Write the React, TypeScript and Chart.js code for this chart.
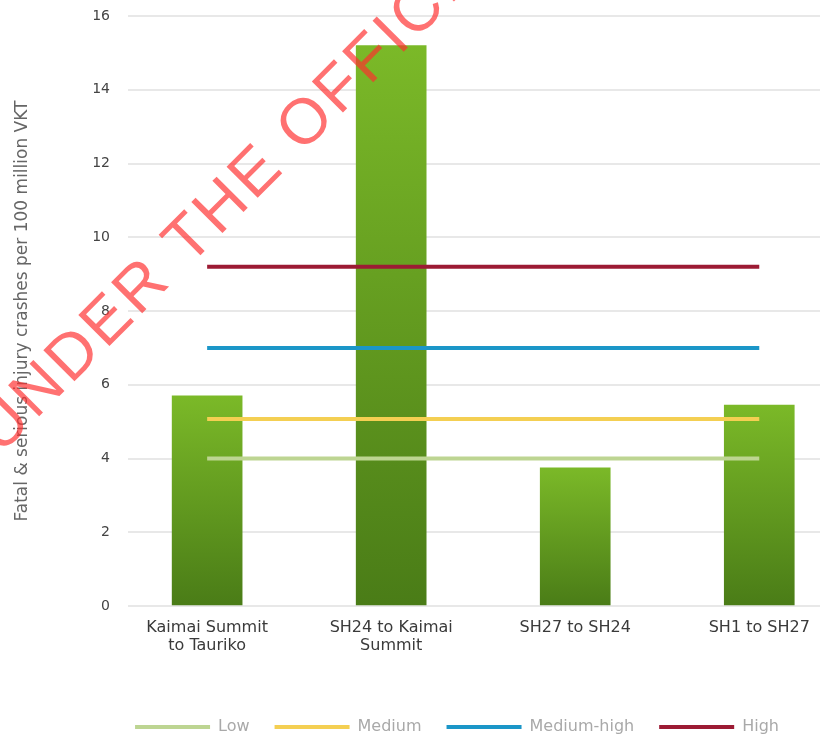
import React, { useEffect, useRef } from "react";
import { Chart, registerables } from "chart.js";

Chart.register(...registerables);

// ---- data ----
const CATEGORIES = ["Kaimai Summit to Tauriko", "SH24 to Kaimai Summit", "SH27 to SH24", "SH1 to SH27"];
const TICK_LABELS = [["Kaimai Summit", "to Tauriko"], ["SH24 to Kaimai", "Summit"], ["SH27 to SH24"], ["SH1 to SH27"]];
const CRASH_RATES = [5.7, 15.2, 3.75, 5.45];
const RISK_BANDS = ["Low", "Medium", "Medium-high", "High"];
const RISK_THRESHOLDS = [4, 5.07, 7, 9.2];
const RISK_COLORS = ["#bdd592", "#f4cf52", "#1b96c8", "#9c1b34"];
const Y_MIN = 0;
const Y_MAX = 16;
const Y_STEP = 2;
const Y_TITLE = "Fatal & serious injury crashes per 100 million VKT";
const WATERMARK = "RELEASED UNDER THE OFFICIAL INFORMATION ACT";
const WATERMARK_LEAD = "RELEASED UNDER THE ";

const watermarkPlugin = {
  id: "watermark",
  afterDraw(chart: any) {
    const ctx = chart.ctx;
    const F = 64;
    ctx.save();
    ctx.font = F + 'px "Liberation Sans"';
    try {
      (ctx as any).letterSpacing = "3.5px";
    } catch (e) {}
    ctx.fillStyle = "rgba(255,45,45,0.68)";
    ctx.textBaseline = "alphabetic";
    ctx.translate(303, 120);
    ctx.rotate(-Math.PI / 4);
    const lead = ctx.measureText(WATERMARK_LEAD).width;
    ctx.fillText(WATERMARK, -lead - 0.389 * F, 0.36 * F);
    ctx.restore();
  },
};

export default function App() {
  const ref = useRef<HTMLCanvasElement | null>(null);

  useEffect(() => {
    if (!ref.current) return;
    Chart.defaults.font.family = '"DejaVu Sans", sans-serif';
    const barData = CATEGORIES.map((_, i) => ({ x: i, y: CRASH_RATES[i] }));
    const lastIdx = CATEGORIES.length - 1;
    const lineSets = RISK_BANDS.map((name, i) => ({
      type: "line" as const,
      label: name,
      data: [
        { x: 0, y: RISK_THRESHOLDS[i] },
        { x: lastIdx, y: RISK_THRESHOLDS[i] },
      ],
      borderColor: RISK_COLORS[i],
      backgroundColor: RISK_COLORS[i],
      borderWidth: 4,
      pointRadius: 0,
      borderCapStyle: "butt" as const,
      fill: false,
      order: 0,
    }));

    const chart = new Chart(ref.current, {
      type: "bar",
      data: {
        datasets: [
          {
            type: "bar",
            label: "Crash rate",
            data: barData as any,
            barThickness: 70,
            borderWidth: 0,
            order: 1,
            backgroundColor: (c: any) => {
              const ch = c.chart;
              const y = ch.scales && ch.scales.y;
              if (!y || c.type !== "data" || !c.raw) return "#67a11f";
              const top = y.getPixelForValue(c.raw.y);
              const base = y.getPixelForValue(0);
              const g = ch.ctx.createLinearGradient(0, top, 0, base);
              g.addColorStop(0, "#7bb928");
              g.addColorStop(1, "#4a7c17");
              return g;
            },
          },
          ...lineSets,
        ] as any,
      },
      options: {
        responsive: false,
        animation: false,
        layout: { padding: { top: 16, right: 4, left: 94, bottom: -5 } },
        plugins: {
          tooltip: { enabled: false },
          legend: {
            position: "bottom",
            fullSize: true,
            align: "center",
            labels: {
              boxWidth: 75,
              boxHeight: 4,
              padding: 25,
              color: "#a9a9a9",
              font: { size: 16 },
              generateLabels: () =>
                RISK_BANDS.map((name, i) => ({
                  text: name,
                  fillStyle: RISK_COLORS[i],
                  strokeStyle: RISK_COLORS[i],
                  lineWidth: 0,
                  hidden: false,
                  datasetIndex: i + 1,
                  fontColor: "#a9a9a9",
                })) as any,
            },
          },
        },
        scales: {
          x: {
            type: "linear",
            offset: false,
            min: -0.43,
            max: 3.33,
            grid: { display: false },
            border: { display: false },
            afterBuildTicks: (axis: any) => {
              axis.ticks = CATEGORIES.map((_, i) => ({ value: i }));
            },
            afterFit: (axis: any) => {
              axis.height = 88;
            },
            ticks: {
              autoSkip: false,
              maxRotation: 0,
              padding: 5,
              color: "#3a3a3a",
              font: { size: 16, lineHeight: 1.1 },
              callback: (v: any) => TICK_LABELS[Math.round(Number(v))] as any,
            },
          },
          y: {
            min: Y_MIN,
            max: Y_MAX,
            grid: {
              color: "#e8e8e8",
              lineWidth: 2,
              drawTicks: true,
              tickLength: 17,
              tickColor: "rgba(0,0,0,0)",
            },
            border: { display: false },
            afterFit: (axis: any) => {
              axis.width = 34;
            },
            ticks: {
              stepSize: Y_STEP,
              padding: 1,
              color: "#444",
              font: { size: 14 },
            },
            title: {
              display: true,
              text: Y_TITLE,
              color: "#666",
              font: { size: 17 },
              padding: { top: -82, bottom: 0 },
            },
          },
        },
      },
      plugins: [watermarkPlugin],
    });
    return () => chart.destroy();
  }, []);

  return (
    <div style={{ position: "absolute", left: 0, top: 0, width: 824, height: 740, background: "#fff" }}>
      <canvas ref={ref} width={824} height={740} style={{ display: "block" }} />
    </div>
  );
}
